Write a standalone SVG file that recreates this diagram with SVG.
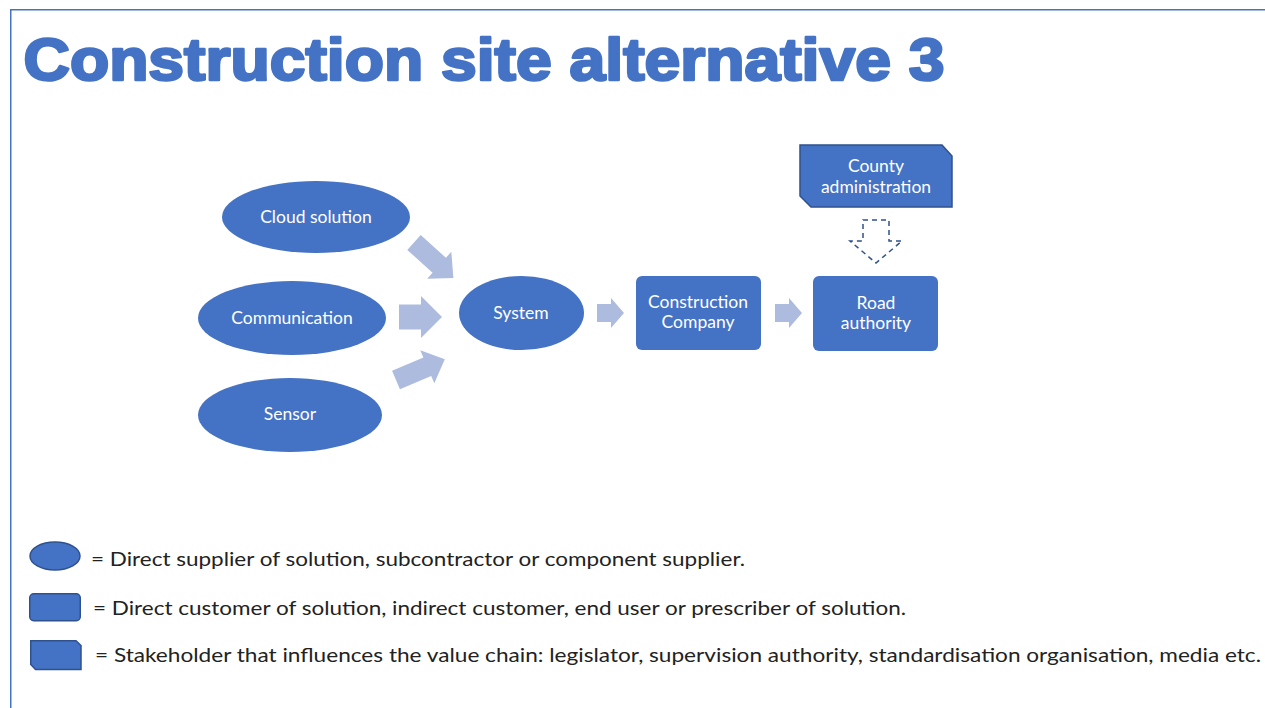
<svg xmlns="http://www.w3.org/2000/svg" width="1265" height="708" viewBox="0 0 1265 708">
<style>
.node{fill:#4472C4}
.dark{fill:#4472C4;stroke:#2F528F;stroke-width:1.5}
.lbl{font-family:Lato,"Liberation Sans",sans-serif;font-size:17.5px;fill:#ffffff;text-anchor:middle}
.leg{font-family:Lato,"Liberation Sans",sans-serif;font-size:20px;fill:#222222}
.arr{fill:#ADBBDE}
</style>
<rect width="1265" height="708" fill="#ffffff"/>
<path d="M10.75,708 V9.75 H1265" fill="none" stroke="#4472C4" stroke-width="1.5"/>
<text x="23.5" y="79.5" font-family="'Liberation Sans',Arial,sans-serif" font-weight="bold" font-size="59" fill="#4472C4" stroke="#4472C4" stroke-width="2.6" stroke-linejoin="round" textLength="921" lengthAdjust="spacingAndGlyphs">Construction site alternative 3</text>

<g id="connectors">
  <polygon class="arr" transform="translate(414,242.5) rotate(42)" points="0,-10 34,-10 34,-18 53,0 34,18 34,10 0,10"/>
  <polygon class="arr" points="399,304.5 421,304.5 421,296 442,317 421,338 421,329.5 399,329.5"/>
  <polygon class="arr" transform="translate(396,380) rotate(-23)" points="0,-10 34,-10 34,-18 53,0 34,18 34,10 0,10"/>
  <polygon class="arr" points="597,304 611,304 611,298 624,313 611,328 611,322 597,322"/>
  <polygon class="arr" points="775,304 789,304 789,298 802,313 789,328 789,322 775,322"/>
  <path d="M863,220 H889 V241 H902 L876,263 L850,241 H863 Z" fill="none" stroke="#2F528F" stroke-width="1.5" stroke-dasharray="5 4"/>
</g>

<g id="cloud">
  <ellipse class="node" cx="316" cy="217" rx="94" ry="36"/>
  <text class="lbl" x="316" y="223">Cloud solution</text>
</g>
<g id="communication">
  <ellipse class="node" cx="292" cy="318" rx="94" ry="37"/>
  <text class="lbl" x="292" y="324">Communication</text>
</g>
<g id="sensor">
  <ellipse class="node" cx="290" cy="415" rx="92" ry="37"/>
  <text class="lbl" x="290" y="420">Sensor</text>
</g>
<g id="system">
  <ellipse class="node" cx="521.5" cy="313" rx="62.5" ry="37"/>
  <text class="lbl" x="521" y="319">System</text>
</g>
<g id="construction">
  <rect class="node" x="636" y="276" width="125" height="74" rx="6"/>
  <text class="lbl" x="698" y="308">Construction</text>
  <text class="lbl" x="698" y="328">Company</text>
</g>
<g id="road">
  <rect class="node" x="813" y="276" width="125" height="75" rx="6"/>
  <text class="lbl" x="876" y="309">Road</text>
  <text class="lbl" x="876" y="329">authority</text>
</g>
<g id="county">
  <path class="dark" d="M800,145 H942 L952,156 V207 H811 L800,196 Z"/>
  <text class="lbl" x="876" y="172">County</text>
  <text class="lbl" x="876" y="193">administration</text>
</g>

<g id="legend">
  <ellipse class="dark" cx="55" cy="556" rx="25" ry="14"/>
  <text class="leg" x="91" y="566" textLength="654" lengthAdjust="spacingAndGlyphs">= Direct supplier of solution, subcontractor or component supplier.</text>
  <rect class="dark" x="29.75" y="593.75" width="50.5" height="27" rx="4"/>
  <text class="leg" x="93" y="615" textLength="813" lengthAdjust="spacingAndGlyphs">= Direct customer of solution, indirect customer, end user or prescriber of solution.</text>
  <path class="dark" d="M30.75,640.75 H76 L81,645.5 V669.5 H35.5 L30.75,664.5 Z"/>
  <text class="leg" x="95" y="662" textLength="1166" lengthAdjust="spacingAndGlyphs">= Stakeholder that influences the value chain: legislator, supervision authority, standardisation organisation, media etc.</text>
</g>
</svg>
